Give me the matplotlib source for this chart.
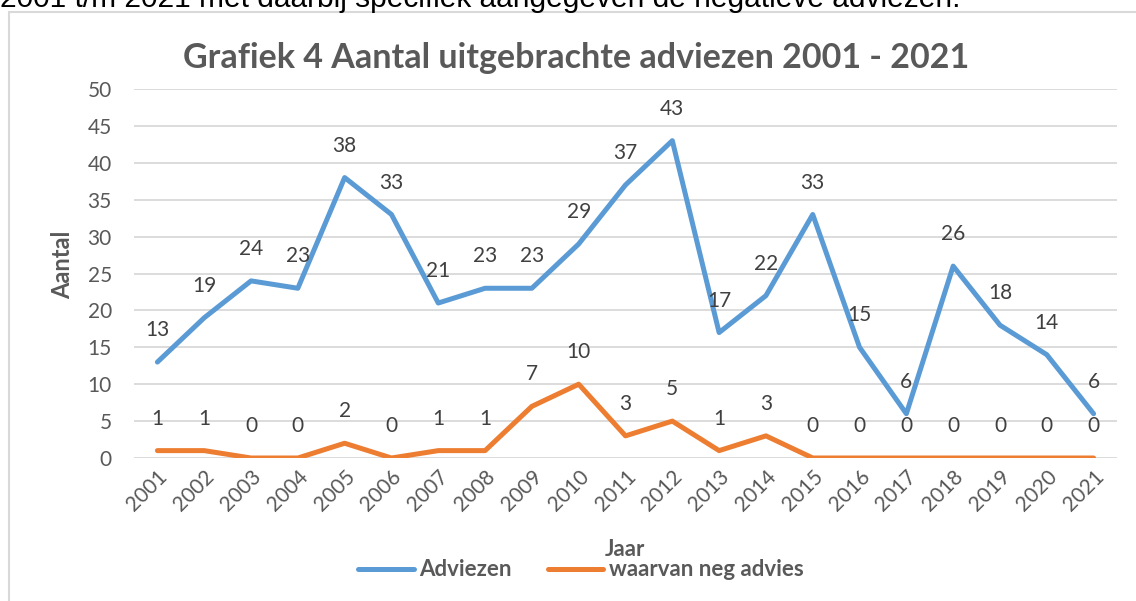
import matplotlib
matplotlib.use("Agg")
import matplotlib.pyplot as plt
from matplotlib.patches import Rectangle
from matplotlib.lines import Line2D

years = [str(y) for y in range(2001, 2022)]
adviezen = [13, 19, 24, 23, 38, 33, 21, 23, 23, 29, 37, 43, 17, 22, 33, 15, 6, 26, 18, 14, 6]
neg_advies = [1, 1, 0, 0, 2, 0, 1, 1, 7, 10, 3, 5, 1, 3, 0, 0, 0, 0, 0, 0, 0]
y_ticks = [0, 5, 10, 15, 20, 25, 30, 35, 40, 45, 50]

TXT = "#595959"
BLUE = "#5B9BD5"
ORANGE = "#ED7D31"
GRID = "#D9D9D9"
FONT = ["Lato", "DejaVu Sans"]

W, H = 1136, 601
fig = plt.figure(figsize=(W / 100, H / 100), dpi=100)
fig.patch.set_facecolor("white")

# border box
fig.patches.append(Rectangle((9 / W, -0.1), 1.2, 1.1 - 12 / H, transform=fig.transFigure,
                             fill=False, edgecolor=GRID, linewidth=1.5))

# cut-off text at top (as in the reference)
fig.text(0 / W, 1 - 7 / H, "2001 t/m 2021 met daarbij specifiek aangegeven de negatieve adviezen.",
         fontsize=21.5, family=["Liberation Sans", "DejaVu Sans"], color="black",
         ha="left", va="baseline")

ax = fig.add_axes([134 / W, (H - 458) / H, (1117 - 134) / W, (458 - 89) / H])
x = list(range(len(years)))

ax.plot(x, adviezen, color=BLUE, lw=3.6, solid_capstyle="round", solid_joinstyle="round",
        label="Adviezen", zorder=3)
ax.plot(x, neg_advies, color=ORANGE, lw=3.6, solid_capstyle="round", solid_joinstyle="round",
        label="waarvan neg advies", zorder=3)

for xi, v in zip(x, adviezen):
    ax.annotate(str(v), (xi, v), xytext=(0, 23), textcoords="offset points",
                ha="center", va="center", fontsize=15, color="#404040", family=FONT,
                annotation_clip=False)
for xi, v in zip(x, neg_advies):
    ax.annotate(str(v), (xi, v), xytext=(0, 23), textcoords="offset points",
                ha="center", va="center", fontsize=15, color="#404040", family=FONT,
                annotation_clip=False)

ax.set_xlim(-0.5, len(years) - 0.5)
ax.set_ylim(0, 50)
ax.set_yticks(y_ticks)
ax.set_yticklabels([str(t) for t in y_ticks], fontsize=15, color=TXT, family=FONT)
ax.set_xticks(x)
ax.set_xticklabels(years, rotation=45, ha="right", rotation_mode="anchor",
                   fontsize=15, color=TXT, family=FONT)
ax.tick_params(axis="both", length=0)
ax.tick_params(axis="y", pad=16)
ax.tick_params(axis="x", pad=6)
ax.grid(axis="y", color=GRID, lw=1.3)
ax.set_axisbelow(True)
for s in ax.spines.values():
    s.set_visible(False)

fig.text(63 / W, 1 - 265 / H, "Aantal", rotation=90, ha="center", va="center",
         fontsize=17, fontweight="bold", color=TXT, family=FONT)

fig.text(576 / W, 1 - 58 / H, "Grafiek 4 Aantal uitgebrachte adviezen 2001 - 2021",
         ha="center", va="center", fontsize=24.5, fontweight="bold", color=TXT, family=FONT)

fig.text(625 / W, 1 - 549 / H, "Jaar", ha="center", va="center",
         fontsize=16, fontweight="bold", color=TXT, family=FONT)

handles = [Line2D([], [], color=BLUE, lw=3.6, solid_capstyle="round"),
           Line2D([], [], color=ORANGE, lw=3.6, solid_capstyle="round")]
leg = fig.legend(handles, ["Adviezen", "waarvan neg advies"], loc="center",
                 bbox_to_anchor=(581 / W, 1 - 570 / H), ncol=2, frameon=False,
                 handlelength=2.5, handletextpad=0.25, columnspacing=1.6,
                 prop={"family": FONT, "size": 16, "weight": "bold"})
for t in leg.get_texts():
    t.set_color(TXT)

fig.savefig("out.png", dpi=100, facecolor="white")
